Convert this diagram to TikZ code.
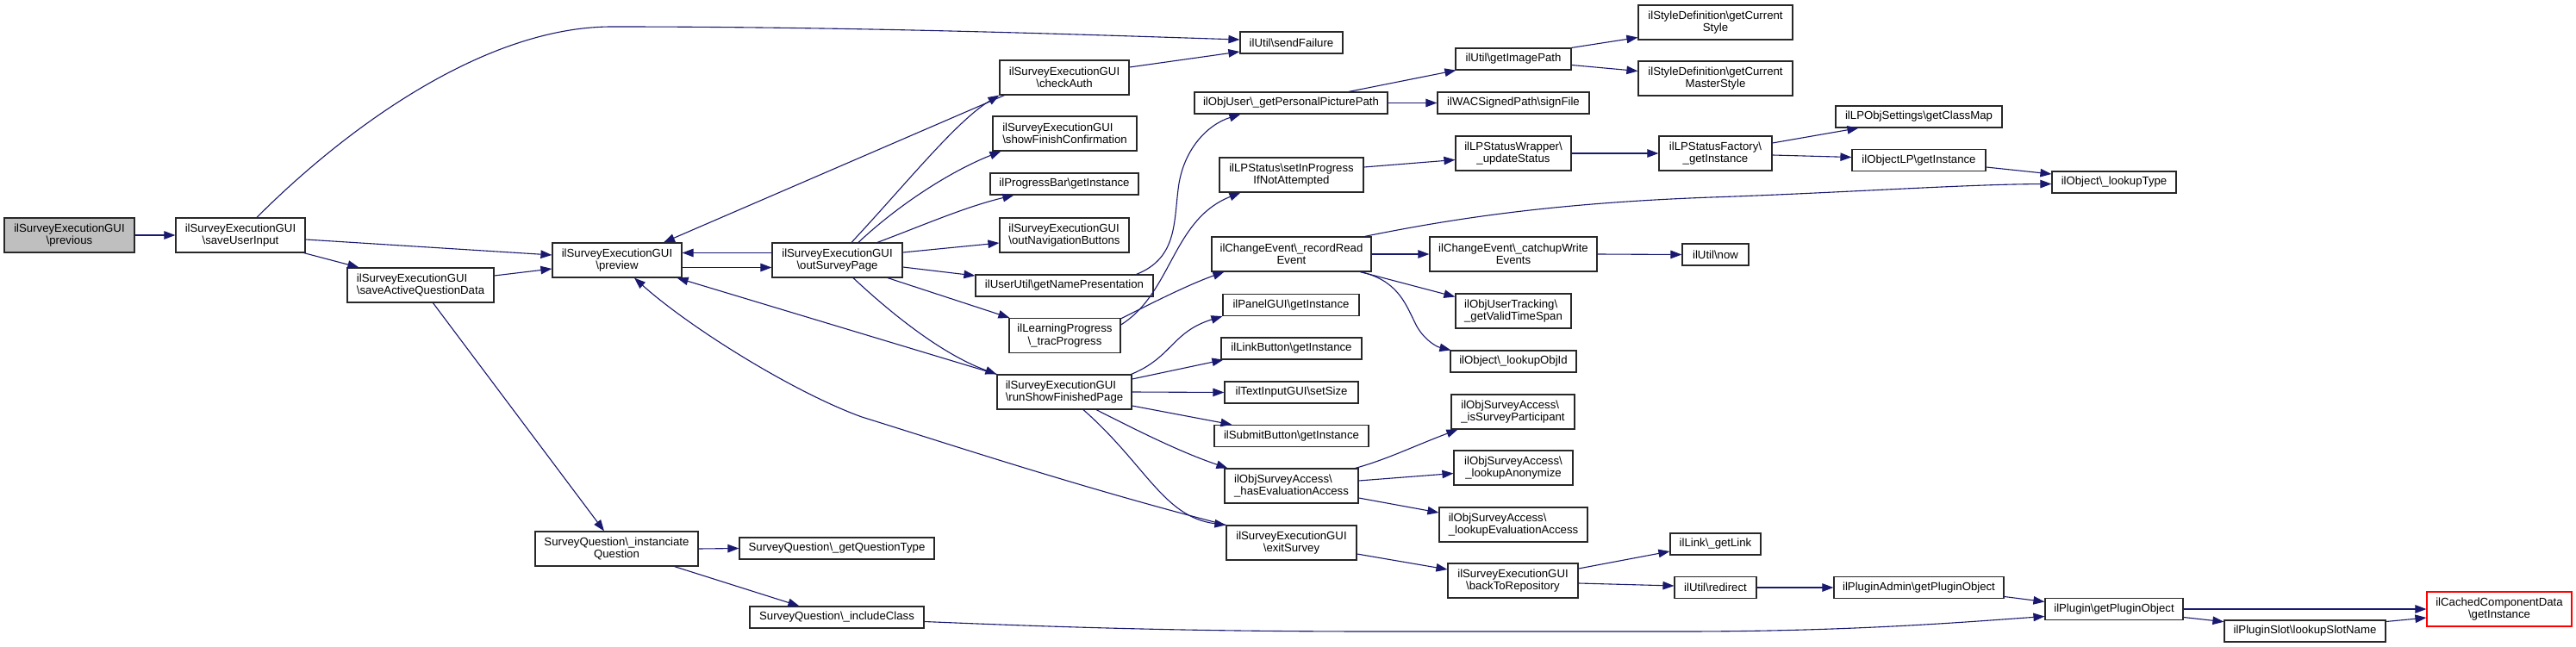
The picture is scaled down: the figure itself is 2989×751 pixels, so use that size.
\documentclass[tikz,border=0pt]{standalone}
\usepackage{fontspec}
\setmainfont{Liberation Sans}
\usetikzlibrary{arrows.meta}
\definecolor{edgec}{RGB}{25,25,112}
\definecolor{boxc}{RGB}{40,40,40}
\tikzset{
  nd/.style={draw=boxc, line width=1.2pt, fill=white, inner sep=0pt, rectangle,
    font=\fontsize{13.2}{14.2}\selectfont, align=center},
  ndl/.style={nd, align=left},
  ed/.style={draw=edgec, line width=1.1pt, -{Triangle[length=13pt,width=9.5pt]}},
}
\begin{document}
\begin{tikzpicture}[x=1pt,y=-1pt]
\useasboundingbox[fill=white] (0,0) rectangle (2989,751);
% column 0-2
\node[nd,fill={rgb,255:red,191;green,191;blue,191},minimum width=151,minimum height=40] (prev) at (80.5,273) {ilSurveyExecutionGUI\\\textbackslash previous};
\node[nd,minimum width=150,minimum height=40] (sui) at (279,273) {ilSurveyExecutionGUI\\\textbackslash saveUserInput};
\node[ndl,minimum width=170,minimum height=40] (saqd) at (488,331) {ilSurveyExecutionGUI\\\textbackslash saveActiveQuestionData};
\node[nd,minimum width=150,minimum height=40] (prevw) at (716,302) {ilSurveyExecutionGUI\\\textbackslash preview};
\node[nd,minimum width=189,minimum height=40] (sqi) at (715.5,637) {SurveyQuestion\textbackslash\_instanciate\\Question};
\node[nd,minimum width=151,minimum height=40] (osp) at (971.5,302) {ilSurveyExecutionGUI\\\textbackslash outSurveyPage};
\node[nd,minimum width=226,minimum height=25] (sqgt) at (971,636.5) {SurveyQuestion\textbackslash\_getQuestionType};
\node[nd,minimum width=202,minimum height=25] (sqic) at (971,716.5) {SurveyQuestion\textbackslash\_includeClass};
% column 1235
\node[nd,minimum width=150,minimum height=40] (ca) at (1235,90) {ilSurveyExecutionGUI\\\textbackslash checkAuth};
\node[ndl,minimum width=167,minimum height=40] (sfc) at (1235.5,155) {ilSurveyExecutionGUI\\\textbackslash showFinishConfirmation};
\node[nd,minimum width=172,minimum height=25] (pb) at (1235,213.5) {ilProgressBar\textbackslash getInstance};
\node[ndl,minimum width=150,minimum height=40] (onb) at (1235,273) {ilSurveyExecutionGUI\\\textbackslash outNavigationButtons};
\node[nd,minimum width=206,minimum height=25] (uu) at (1235,331.5) {ilUserUtil\textbackslash getNamePresentation};
\node[nd,minimum width=129,minimum height=40] (lp) at (1235.5,389.5) {ilLearningProgress\\\textbackslash\_tracProgress};
\node[ndl,minimum width=156,minimum height=40] (rsfp) at (1235,455) {ilSurveyExecutionGUI\\\textbackslash runShowFinishedPage};
% column 1498
\node[nd,minimum width=119,minimum height=25] (sf) at (1498.5,49.5) {ilUtil\textbackslash sendFailure};
\node[nd,minimum width=224,minimum height=25] (ou) at (1498,119.5) {ilObjUser\textbackslash\_getPersonalPicturePath};
\node[nd,minimum width=167,minimum height=40] (lps) at (1498.5,203) {ilLPStatus\textbackslash setInProgress\\IfNotAttempted};
\node[nd,minimum width=185,minimum height=40] (cer) at (1498.5,295) {ilChangeEvent\textbackslash\_recordRead\\Event};
\node[nd,minimum width=158,minimum height=25] (pg) at (1498,354) {ilPanelGUI\textbackslash getInstance};
\node[nd,minimum width=163,minimum height=25] (lb) at (1498.5,404.5) {ilLinkButton\textbackslash getInstance};
\node[nd,minimum width=155,minimum height=25] (ti) at (1498.5,455.5) {ilTextInputGUI\textbackslash setSize};
\node[nd,minimum width=179,minimum height=25] (sb) at (1498.5,506) {ilSubmitButton\textbackslash getInstance};
\node[ndl,minimum width=155,minimum height=40] (hea) at (1498.5,564) {ilObjSurveyAccess\textbackslash\\\_hasEvaluationAccess};
\node[nd,minimum width=151,minimum height=40] (es) at (1498.5,630) {ilSurveyExecutionGUI\\\textbackslash exitSurvey};
% column 1756
\node[nd,minimum width=134,minimum height=25] (gip) at (1756,68.5) {ilUtil\textbackslash getImagePath};
\node[nd,minimum width=176,minimum height=25] (wac) at (1756,119.5) {ilWACSignedPath\textbackslash signFile};
\node[nd,minimum width=134,minimum height=40] (lpsw) at (1756,178) {ilLPStatusWrapper\textbackslash\\\_updateStatus};
\node[nd,minimum width=194,minimum height=40] (cew) at (1756,295) {ilChangeEvent\textbackslash\_catchupWrite\\Events};
\node[ndl,minimum width=134,minimum height=40] (out) at (1756,361) {ilObjUserTracking\textbackslash\\\_getValidTimeSpan};
\node[nd,minimum width=146,minimum height=25] (loi) at (1756,419.5) {ilObject\textbackslash\_lookupObjId};
\node[ndl,minimum width=143,minimum height=40] (isp) at (1755.5,478) {ilObjSurveyAccess\textbackslash\\\_isSurveyParticipant};
\node[nd,minimum width=138,minimum height=40] (la) at (1756,543) {ilObjSurveyAccess\textbackslash\\\_lookupAnonymize};
\node[ndl,minimum width=172,minimum height=40] (lea) at (1756,609) {ilObjSurveyAccess\textbackslash\\\_lookupEvaluationAccess};
\node[nd,minimum width=151,minimum height=40] (btr) at (1755.5,674) {ilSurveyExecutionGUI\\\textbackslash backToRepository};
% column 1990
\node[nd,minimum width=179,minimum height=40] (sdcs) at (1990.5,26) {ilStyleDefinition\textbackslash getCurrent\\Style};
\node[nd,minimum width=179,minimum height=40] (sdcm) at (1990.5,91) {ilStyleDefinition\textbackslash getCurrent\\MasterStyle};
\node[nd,minimum width=131,minimum height=40] (lpsf) at (1990.5,178) {ilLPStatusFactory\textbackslash\\\_getInstance};
\node[nd,minimum width=77,minimum height=25] (now) at (1990.5,295.5) {ilUtil\textbackslash now};
\node[nd,minimum width=105,minimum height=25] (lgl) at (1990.5,631.5) {ilLink\textbackslash\_getLink};
\node[nd,minimum width=95,minimum height=25] (red) at (1990.5,682) {ilUtil\textbackslash redirect};
% column 2226+
\node[nd,minimum width=193,minimum height=25] (cm) at (2226.5,135.5) {ilLPObjSettings\textbackslash getClassMap};
\node[nd,minimum width=155,minimum height=25] (olp) at (2226.5,186) {ilObjectLP\textbackslash getInstance};
\node[nd,minimum width=197,minimum height=25] (pa) at (2226.5,682) {ilPluginAdmin\textbackslash getPluginObject};
\node[nd,minimum width=144,minimum height=25] (lt) at (2453,211.5) {ilObject\textbackslash\_lookupType};
\node[nd,minimum width=160,minimum height=25] (pgo) at (2453,707) {ilPlugin\textbackslash getPluginObject};
\node[nd,minimum width=187,minimum height=25] (pls) at (2674.5,732.5) {ilPluginSlot\textbackslash lookupSlotName};
\node[nd,draw=red,minimum width=168,minimum height=40] (ccd) at (2900,707) {ilCachedComponentData\\\textbackslash getInstance};
% edges
\draw[ed] (prev.east) -- (sui.west);
\draw[ed] ([shift={(19,0)}]sui.north) .. controls (398,152) and (560,31) .. (710,31) .. controls (1000,31) and (1250,40) .. ([shift={(0,-3.5)}]sf.west);
\draw[ed] ([shift={(0,5)}]sui.east) -- ([shift={(0,-6)}]prevw.west);
\draw[ed] ([shift={(-2,0)}]sui.south east) -- ([shift={(14,0)}]saqd.north west);
\draw[ed] ([shift={(0,-11)}]saqd.east) -- ([shift={(0,10)}]prevw.west);
\draw[ed] ([shift={(100,0)}]saqd.south west) -- ([shift={(-14.5,0)}]sqi.north);
\draw[ed] ([shift={(0,8.5)}]prevw.east) -- ([shift={(0,8.5)}]osp.west);
\draw[ed] ([shift={(0,-8.5)}]osp.west) -- ([shift={(0,-8.5)}]prevw.east);
\draw[ed] ([shift={(16.5,0)}]osp.north) .. controls (1050,215) and (1110,140) .. (ca.south west);
\draw[ed] ([shift={(6,0)}]ca.south west) -- ([shift={(54,0)}]prevw.north);
\draw[ed] ([shift={(0,-12)}]ca.east) -- ([shift={(0,10.5)}]sf.west);
\draw[ed] ([shift={(24.5,0)}]osp.north) .. controls (1040,240) and (1100,200) .. ([shift={(10,0)}]sfc.south west);
\draw[ed] ([shift={(46.5,0)}]osp.north) .. controls (1070,262) and (1120,240) .. ([shift={(28,0)}]pb.south west);
\draw[ed] ([shift={(0,-9)}]osp.east) -- ([shift={(0,9)}]onb.west);
\draw[ed] ([shift={(0,8)}]osp.east) -- ([shift={(0,-11.5)}]uu.west);
\draw[ed] ([shift={(58.5,0)}]osp.south) -- ([shift={(1,0)}]lp.north west);
\draw[ed] ([shift={(18.5,0)}]osp.south) .. controls (1030,360) and (1090,410) .. (rsfp.north west);
\draw[ed] (rsfp.north west) -- ([shift={(-6,0)}]prevw.south east);
\draw[ed] (es.north west) .. controls (1250,565) and (1100,515) .. (1000,484) .. controls (920,455) and (800,380) .. ([shift={(20,0)}]prevw.south);
\draw[ed] ([shift={(22,0)}]rsfp.south) .. controls (1330,540) and (1350,600) .. (es.north west);
\draw[ed] ([shift={(0,-12.5)}]lp.east) .. controls (1360,340) and (1360,255) .. ([shift={(25,0)}]lps.south west);
\draw[ed] ([shift={(0,1)}]lp.north east) .. controls (1340,350) and (1380,330) .. ([shift={(15,0)}]cer.south west);
\draw[ed] ([shift={(-1,0)}]rsfp.north east) .. controls (1360,415) and (1360,385) .. (pg.south west);
\draw[ed] ([shift={(0,-15)}]rsfp.east) -- ([shift={(3,0)}]lb.south west);
\draw[ed] (rsfp.east) -- (ti.west);
\draw[ed] ([shift={(0,16)}]rsfp.east) -- ([shift={(21,0)}]sb.north west);
\draw[ed] ([shift={(37,0)}]rsfp.south) .. controls (1320,500) and (1370,525) .. ([shift={(4,0)}]hea.north west);
\draw[ed] ([shift={(0,13)}]es.east) -- ([shift={(0,-13)}]btr.west);
\draw[ed] ([shift={(-20,0)}]uu.north east) .. controls (1365,300) and (1362,260) .. (1367,220) .. controls (1372,175) and (1400,145) .. ([shift={(54,0)}]ou.south west);
\draw[ed] ([shift={(67,0)}]ou.north) -- ([shift={(1,0)}]gip.south west);
\draw[ed] (ou.east) -- (wac.west);
\draw[ed] (gip.north east) -- ([shift={(0,17.5)}]sdcs.west);
\draw[ed] ([shift={(0,7)}]gip.east) -- ([shift={(0,-8.5)}]sdcm.west);
\draw[ed] ([shift={(0,-9)}]lps.east) -- ([shift={(0,7.5)}]lpsw.west);
\draw[ed] (lpsw.east) -- (lpsf.west);
\draw[ed] ([shift={(0,-12)}]lpsf.east) -- ([shift={(27,0)}]cm.south west);
\draw[ed] ([shift={(0,2)}]lpsf.east) -- ([shift={(0,-3.5)}]olp.west);
\draw[ed] ([shift={(0,8)}]olp.east) -- ([shift={(0,-9.5)}]lt.west);
\draw[ed] ([shift={(-8,0)}]cer.north east) .. controls (1680,255) and (1800,235) .. (2000,228.5) .. controls (2150,223) and (2280,214) .. ([shift={(0,2)}]lt.west);
\draw[ed] (cer.east) -- (cew.west);
\draw[ed] (cew.east) -- (now.west);
\draw[ed] ([shift={(-13,0)}]cer.south east) -- ([shift={(0,-16.5)}]out.west);
\draw[ed] ([shift={(-13,0)}]cer.south east) .. controls (1620,325) and (1630,350) .. (1642,375) .. controls (1650,392) and (1665,402) .. ([shift={(1,0)}]loi.north west);
\draw[ed] ([shift={(-4,0)}]hea.north east) .. controls (1610,533) and (1640,518) .. ([shift={(8,0)}]isp.south west);
\draw[ed] ([shift={(0,-6)}]hea.east) -- ([shift={(0,6.5)}]la.west);
\draw[ed] ([shift={(0,14)}]hea.east) -- ([shift={(0,-14)}]lea.west);
\draw[ed] ([shift={(0,-14)}]btr.east) -- ([shift={(0,8.5)}]lgl.west);
\draw[ed] ([shift={(0,3)}]btr.east) -- ([shift={(0,-2)}]red.west);
\draw[ed] (red.east) -- (pa.west);
\draw[ed] ([shift={(0,10.5)}]pa.east) -- ([shift={(0,-8.5)}]pgo.west);
\draw[ed] ([shift={(0,5)}]sqic.east) .. controls (1250,729) and (1400,733) .. (1600,733) -- (1950,733) .. controls (2150,733) and (2280,722) .. ([shift={(0,8.5)}]pgo.west);
\draw[ed] (pgo.east) -- (ccd.west);
\draw[ed] ([shift={(0,9.5)}]pgo.east) -- ([shift={(0,-10.8)}]pls.west);
\draw[ed] ([shift={(0,-11)}]pls.east) -- ([shift={(0,10)}]ccd.west);
\draw[ed] (sqi.east) -- (sqgt.west);
\draw[ed] ([shift={(-28,0)}]sqi.south east) -- ([shift={(58,0)}]sqic.north west);
\end{tikzpicture}
\end{document}
